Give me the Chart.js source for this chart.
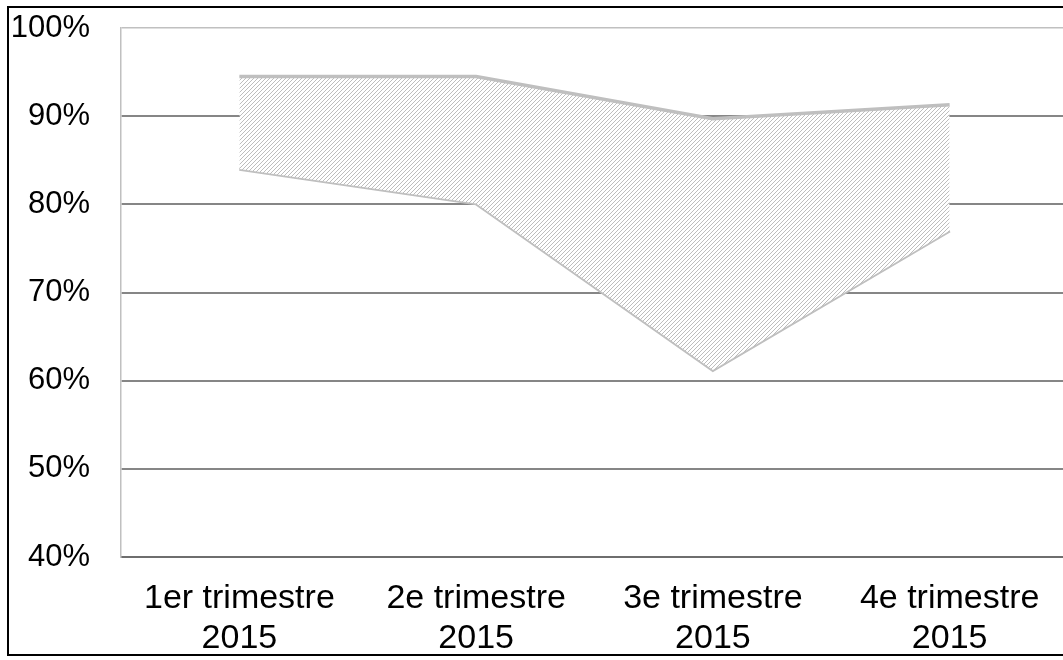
<!DOCTYPE html>
<html>
<head>
<meta charset="utf-8">
<script src="https://cdn.jsdelivr.net/npm/chart.js@4/dist/chart.umd.min.js"></script>
<style>
  html, body { margin: 0; padding: 0; background: #fff; overflow: hidden; width: 1063px; height: 660px; }
  #wrap { position: absolute; left: 0; top: 0; width: 1063px; height: 660px; overflow: hidden; }
  canvas { position: absolute; left: 0; top: 0; }
</style>
</head>
<body>
<div id="wrap"><canvas id="chart" width="1085" height="660"></canvas></div>
<script>
// Données
const categories = [['1er trimestre', '2015'], ['2e trimestre', '2015'], ['3e trimestre', '2015'], ['4e trimestre', '2015']];
const hautes = [0.945, 0.945, 0.897, 0.913];
const basses = [0.840, 0.801, 0.612, 0.770];
const yTicks = [0.4, 0.5, 0.6, 0.7, 0.8, 0.9, 1.0];

const FONT = "'Liberation Sans', Arial, sans-serif";

// motif hachuré (diagonales /)
function hachures() {
    const c = document.createElement('canvas');
    c.width = 4; c.height = 4;
    const g = c.getContext('2d');
    g.fillStyle = '#ffffff';
    g.fillRect(0, 0, 4, 4);
    g.fillStyle = '#bdbdbd';
    for (let i = 0; i < 4; i++) g.fillRect(i, 3 - i, 1, 1);
    return g.createPattern(c, 'repeat');
}

// cadre noir autour du graphique
const cadre = {
    id: 'cadre',
    beforeDraw(chart) {
        const ctx = chart.ctx;
        ctx.save();
        ctx.fillStyle = '#fff';
        ctx.fillRect(0, 0, chart.width, chart.height);
        ctx.strokeStyle = '#000';
        ctx.lineWidth = 2;
        ctx.strokeRect(8, 7, 1200, 648);
        ctx.restore();
    }
};

new Chart(document.getElementById('chart'), {
    type: 'line',
    data: {
        labels: categories,
        datasets: [{
            label: 'Haut',
            data: hautes,
            borderColor: '#bfbfbf',
            borderWidth: 3.5,
            pointRadius: 0,
            tension: 0,
            fill: '+1',
            backgroundColor: hachures()
        }, {
            label: 'Bas',
            data: basses,
            borderColor: '#bfbfbf',
            borderWidth: 3.5,
            pointRadius: 0,
            tension: 0,
            fill: false
        }]
    },
    options: {
        responsive: false,
        animation: false,
        layout: { padding: { top: 28, right: 17, left: 0, bottom: 0 } },
        scales: {
            x: {
                offset: true,
                grid: { display: false, drawTicks: false },
                border: { display: true, color: '#6e6e6e', width: 2 },
                ticks: {
                    color: '#000',
                    padding: 22,
                    maxRotation: 0,
                    autoSkip: false,
                    font: { family: FONT, size: 34, lineHeight: 1.16 }
                },
                afterFit(scale) { scale.height = 103; }
            },
            y: {
                min: 0.4,
                max: 1.0,
                afterBuildTicks(scale) { scale.ticks = yTicks.map(v => ({ value: v })); },
                grid: {
                    drawTicks: true,
                    tickLength: 31,
                    tickColor: 'rgba(0,0,0,0)',
                    color: ctx => (ctx.tick && ctx.tick.value === 1.0) ? '#c0c0c0' : '#868686',
                    lineWidth: ctx => (ctx.tick && ctx.tick.value === 1.0) ? 1.5 : 2
                },
                border: { display: true, color: '#c0c0c0', width: 1.5 },
                ticks: {
                    color: '#000',
                    padding: 0,
                    font: { family: FONT, size: 31 },
                    callback: v => Math.round(v * 100) + '%'
                },
                afterFit(scale) { scale.width = 121; }
            }
        },
        plugins: {
            legend: { display: false },
            tooltip: { enabled: false }
        }
    },
    plugins: [cadre]
});
</script>
</body>
</html>
